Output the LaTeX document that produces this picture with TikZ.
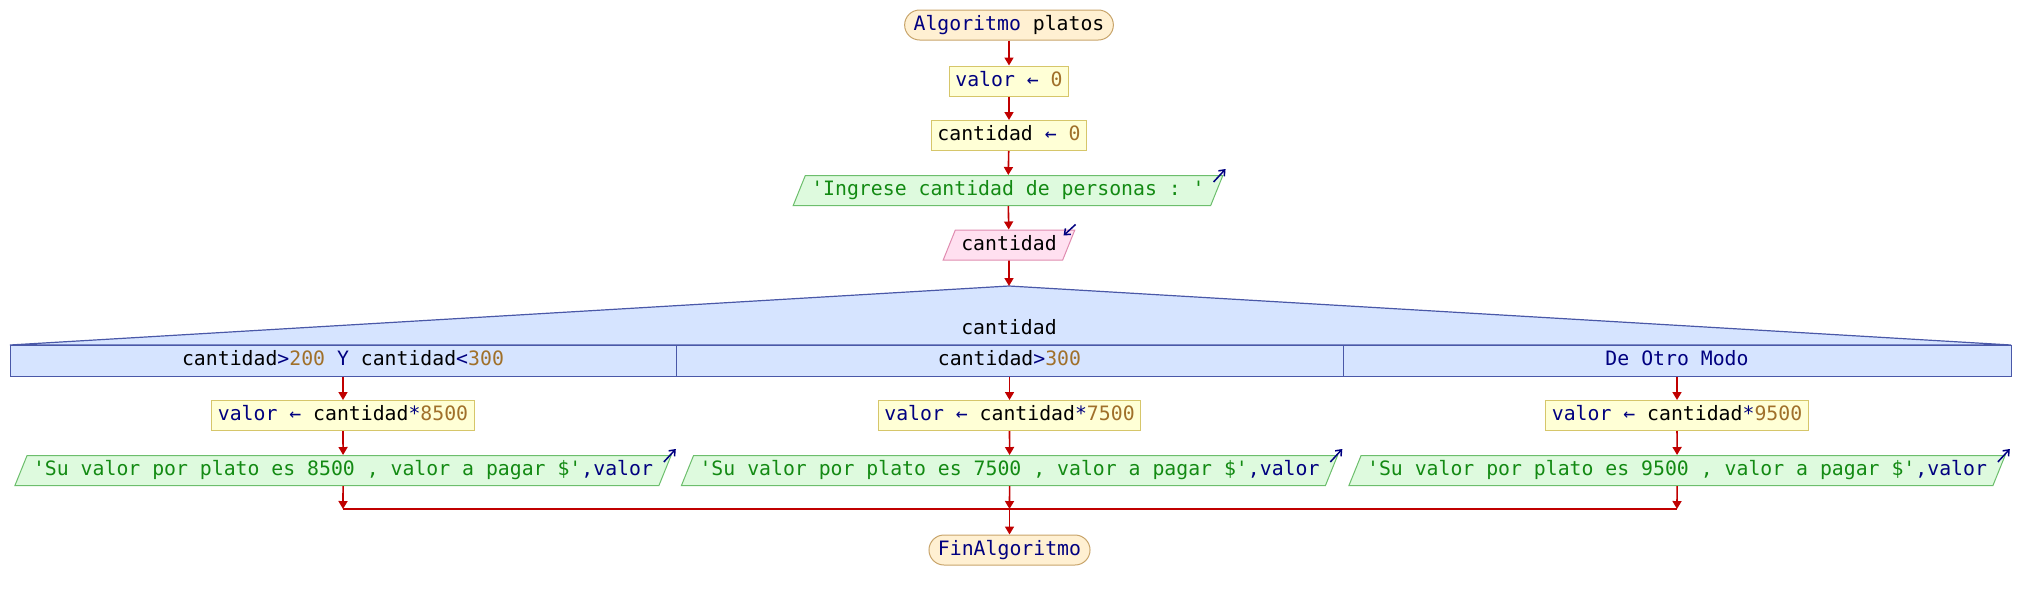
\documentclass[tikz,border=0pt]{standalone}
\usepackage{fontspec}
\setmonofont{DejaVu Sans Mono}
\usepackage{tikz}
\usetikzlibrary{arrows.meta}
\usetikzlibrary{shapes.geometric}
\usetikzlibrary{calc}

\definecolor{termfill}{HTML}{FFF0D2}
\definecolor{termline}{HTML}{C8A46A}
\definecolor{asgfill}{HTML}{FFFFD6}
\definecolor{asgline}{HTML}{D6C66A}
\definecolor{outfill}{HTML}{DEFADE}
\definecolor{outline}{HTML}{6CBE6C}
\definecolor{infill}{HTML}{FFE0F0}
\definecolor{inline}{HTML}{E08CB0}
\definecolor{swfill}{HTML}{D6E4FF}
\definecolor{swline}{HTML}{4A58A8}
\definecolor{flowred}{HTML}{C00000}
\definecolor{kwblue}{HTML}{000080}
\definecolor{numbrown}{HTML}{A0702A}
\definecolor{strgreen}{HTML}{138A13}

\newcommand{\pkw}[1]{\textcolor{kwblue}{#1}}
\newcommand{\pnum}[1]{\textcolor{numbrown}{#1}}
\newcommand{\pstr}[1]{\textcolor{strgreen}{#1}}

\tikzset{
  base/.style={font=\ttfamily\fontsize{9.9}{12}\selectfont, text height=7.6pt, text depth=2.4pt,
    inner xsep=3pt, inner ysep=2.5pt, line width=0.5pt},
  termbox/.style={base, draw=termline, fill=termfill, rounded corners=7.5pt, inner xsep=4.5pt},
  assignbox/.style={base, draw=asgline, fill=asgfill},
  outbox/.style={base, draw=outline, fill=outfill, trapezium, trapezium stretches=true,
    trapezium left angle=68, trapezium right angle=112},
  inbox/.style={base, draw=inline, fill=infill, trapezium, trapezium stretches=true,
    trapezium left angle=68, trapezium right angle=112},
  casebox/.style={base, draw=swline, fill=swfill, inner ysep=2.75pt},
  flow/.style={draw=flowred, line width=0.8pt, -{Triangle[length=4pt,width=4.5pt]}},
  joinline/.style={draw=flowred, line width=1.1pt},
  iomark/.style={draw=kwblue, line width=0.75pt, -{Straight Barb[length=2.5pt,width=4pt]}},
}

\begin{document}
\begin{tikzpicture}[x=0.5pt,y=-0.5pt]
  \useasboundingbox (0,0) rectangle (2018,600);

  % top part
  \node[termbox] (start) at (1009,25) {\pkw{Algoritmo} platos};
  \node[assignbox] (v0) at (1009,81) {\pkw{valor ←} \pnum{0}};
  \node[assignbox] (c0) at (1009,135.5) {cantidad \pkw{←} \pnum{0}};
  \node[outbox] (ask) at (1008,190.5) {\pstr{'Ingrese cantidad de personas : '}};
  \node[inbox] (inp) at (1009,245) {cantidad};

  \draw[flow] (start) -- (v0);
  \draw[flow] (v0) -- (c0);
  \draw[flow] (c0) -- (ask);
  \draw[flow] (ask) -- (inp);
  \draw[iomark] ($(ask.top right corner)+(-10,7)$) -- ++(12,-13);
  \draw[iomark] ($(inp.top right corner)+(0,-5)$) -- ++(-12,11);

  % segun
  \coordinate (swtop) at (1009,286);
  \coordinate (swl) at (10,345);
  \coordinate (swr) at (2011,345);
  \draw[swline, fill=swfill, line width=0.6pt] (swl) -- (swtop) -- (swr) -- cycle;
  \node[base] (swlabel) at (1009,329) {cantidad};
  \node[casebox, minimum width=333pt] (k1) at (343,360.5)
    {cantidad\pkw{>}\pnum{200} \pkw{Y} cantidad\pkw{<}\pnum{300}};
  \node[casebox, minimum width=333.5pt] (k2) at (1009.5,360.5) {cantidad\pkw{>}\pnum{300}};
  \node[casebox, minimum width=334pt] (k3) at (1677,360.5) {\pkw{De Otro Modo}};
  \draw[flow] (inp) -- (swtop);

  % ramas
  \node[assignbox] (a1) at (343,415.5) {\pkw{valor ←} cantidad\pkw{*}\pnum{8500}};
  \node[assignbox] (a2) at (1009.5,415.5) {\pkw{valor ←} cantidad\pkw{*}\pnum{7500}};
  \node[assignbox] (a3) at (1677,415.5) {\pkw{valor ←} cantidad\pkw{*}\pnum{9500}};
  \node[outbox] (o1) at (343,470.5)
    {\pstr{'Su valor por plato es 8500 , valor a pagar \$'}\pkw{,valor}};
  \node[outbox] (o2) at (1009.5,470.5)
    {\pstr{'Su valor por plato es 7500 , valor a pagar \$'}\pkw{,valor}};
  \node[outbox] (o3) at (1677,470.5)
    {\pstr{'Su valor por plato es 9500 , valor a pagar \$'}\pkw{,valor}};

  \draw[flow] (k1) -- (a1);
  \draw[flow] (k2) -- (a2);
  \draw[flow] (k3) -- (a3);
  \draw[flow] (a1) -- (o1);
  \draw[flow] (a2) -- (o2);
  \draw[flow] (a3) -- (o3);
  \draw[iomark] ($(o1.top right corner)+(-8,7)$) -- ++(12,-13);
  \draw[iomark] ($(o2.top right corner)+(-8,7)$) -- ++(12,-13);
  \draw[iomark] ($(o3.top right corner)+(-8,7)$) -- ++(12,-13);

  % fin
  \coordinate (j1) at (343,509);
  \coordinate (j2) at (1009.5,509);
  \coordinate (j3) at (1677,509);
  \node[termbox] (fin) at (1009.5,550) {\pkw{FinAlgoritmo}};
  \draw[joinline] (j1) -- (j3);
  \draw[flow] (o1) -- (j1);
  \draw[flow] (o2) -- (j2);
  \draw[flow] (o3) -- (j3);
  \draw[flow] (j2) -- (fin);
\end{tikzpicture}
\end{document}
